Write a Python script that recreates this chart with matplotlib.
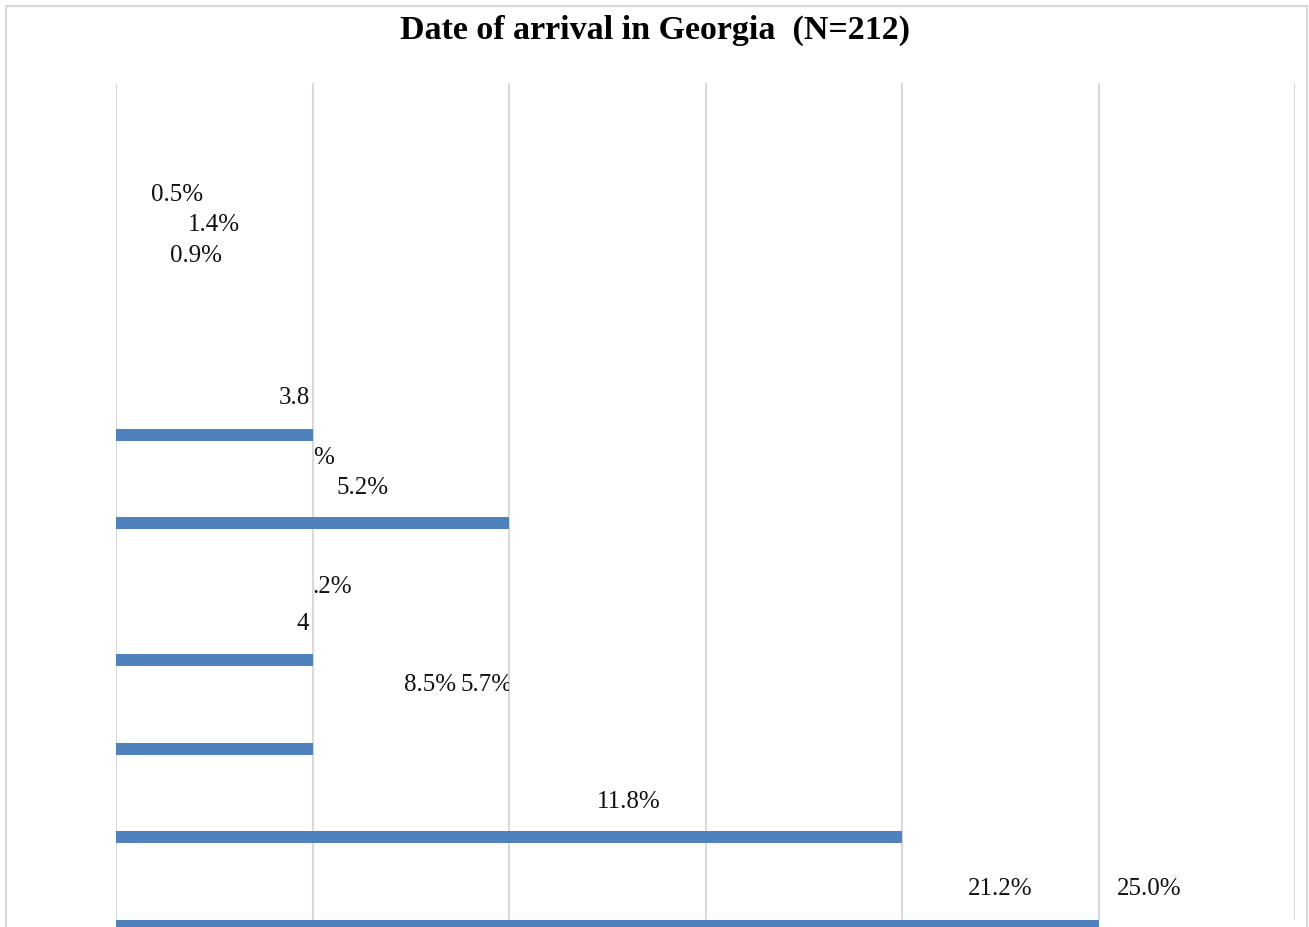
import matplotlib.pyplot as plt
from matplotlib.lines import Line2D
from matplotlib.transforms import Bbox, TransformedBbox

# bar rows (top = 0) and their lengths in percent
bar_rows = [3.975, 4.975, 6.525, 7.525, 8.525, 9.53]
bar_values = [5, 10, 5, 5, 20, 25]

# percentage labels as they sit on the chart: text, x (percent), row
label_texts = ["0.5%", "1.4%", "0.9%", "3.8", "%", "5.2%", ".2%", "4",
               "8.5%", "5.7%", "11.8%", "21.2%", "25.0%"]
label_x = [0.89, 1.83, 1.37, 4.94, 5.01, 5.62, 4.99, 4.91,
           7.34, 8.77, 12.23, 21.67, 25.46]
label_rows = [1.26, 1.61, 1.96, 3.56, 4.24, 4.58, 5.69, 6.11,
              6.80, 6.80, 8.12, 9.11, 9.11]
label_align = ["left", "left", "left", "right", "left", "left", "left", "right",
               "left", "left", "left", "left", "left"]

title = "Date of arrival in Georgia  (N=212)"

W, H = 1309, 927
fig = plt.figure(figsize=(W / 100, H / 100), dpi=100)
ax = fig.add_axes([116 / W, 1 - 920 / H, (1295 - 116) / W, (920 - 83) / H])

ax.barh(bar_rows, bar_values, height=0.135, color="#4f81bd", zorder=3,
        clip_on=False)

ax.set_xlim(0, 30)
ax.set_ylim((920 - 83) / 88.5, 0)
ax.set_xticks(range(0, 31, 5))
ax.grid(axis="x", color="#d9d9d9", linewidth=1.5, zorder=0)
ax.tick_params(left=False, bottom=False, labelleft=False, labelbottom=False)
for s in ax.spines.values():
    s.set_visible(False)

# the "5.7%" label is cut off at the 10% line
clip = TransformedBbox(Bbox([[0, 0], [10, 10]]), ax.transData)
for txt, x, r, ha in zip(label_texts, label_x, label_rows, label_align):
    t = ax.text(x, r, txt, ha=ha, va="center", fontsize=18,
                family="Liberation Serif", color="#111111", zorder=4)
    if txt == "5.7%":
        t.set_clip_box(clip)
        t.set_clip_on(True)

fig.text(655 / W, 1 - 30 / H, title, ha="center", va="center",
         fontsize=24.5, fontweight="bold", family="Liberation Serif")

# chart frame (open at the bottom)
fx = [6 / W, 6 / W, 1307 / W, 1307 / W]
fy = [0, 1 - 6 / H, 1 - 6 / H, 0]
fig.add_artist(Line2D(fx, fy, transform=fig.transFigure, color="#d9d9d9",
                      linewidth=1.6))

plt.savefig("out.png", dpi=100)
